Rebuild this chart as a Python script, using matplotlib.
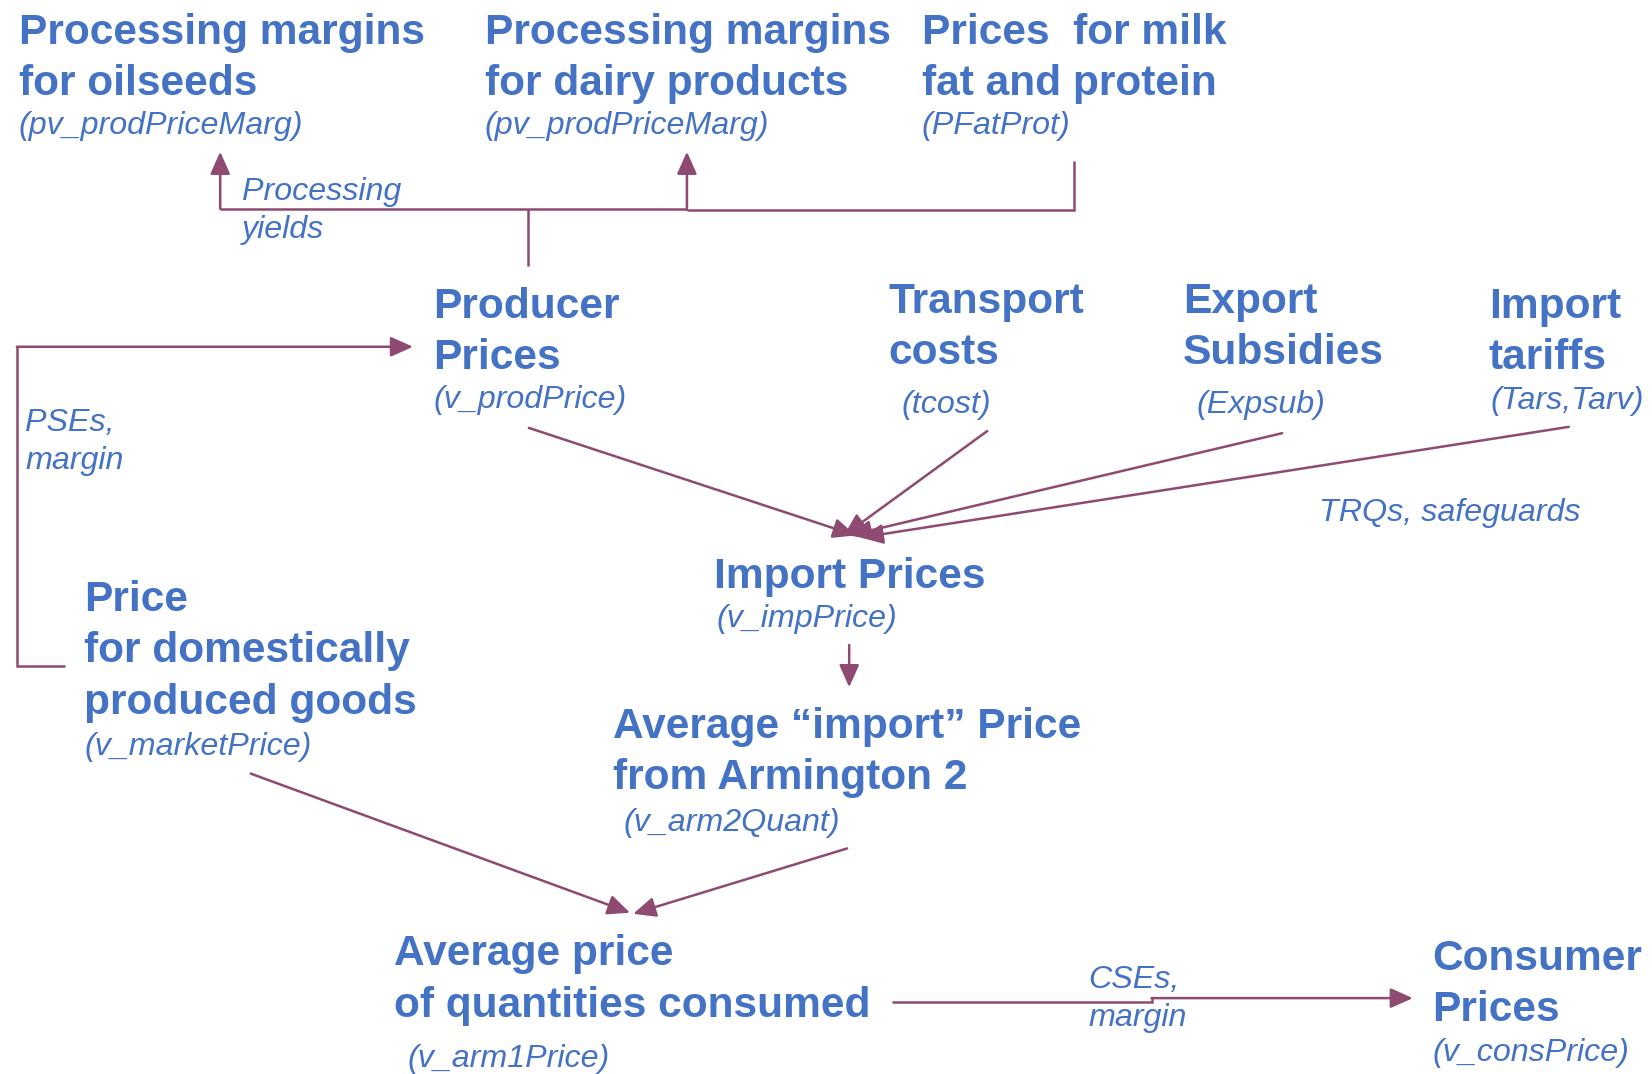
import matplotlib
matplotlib.use("Agg")
import matplotlib.pyplot as plt
from matplotlib.patches import FancyArrowPatch

# ---- content ----
node_titles = [
    ["Processing margins", "for oilseeds"],
    ["Processing margins", "for dairy products"],
    ["Prices  for milk", "fat and protein"],
    ["Producer", "Prices"],
    ["Transport", "costs"],
    ["Export", "Subsidies"],
    ["Import", "tariffs"],
    ["Import Prices"],
    ["Average \u201cimport\u201d Price", "from Armington 2"],
    ["Price", "for domestically", "produced goods"],
    ["Average price", "of quantities consumed"],
    ["Consumer", "Prices"],
]
node_vars = [
    "(pv_prodPriceMarg)", "(pv_prodPriceMarg)", "(PFatProt)",
    "(v_prodPrice)", "(tcost)", "(Expsub)", "(Tars,Tarv)",
    "(v_impPrice)", "(v_arm2Quant)", "(v_marketPrice)",
    "(v_arm1Price)", "(v_consPrice)",
]
edge_labels = [["Processing", "yields"], ["PSEs,", "margin"],
               ["TRQs, safeguards"], ["CSEs,", "margin"]]

# ---- layout (reference pixel space, 1568 x 1019) ----
title_xy = [(18, 42), (460, 42), (875, 42), (411, 302), (843, 297),
            (1123, 297), (1413, 302), (678, 558), (582, 700), (80, 580),
            (374, 916), (1359, 920)]
var_xy = [(18, 127), (460, 127), (875, 127), (411, 387), (856, 392),
          (1136, 392), (1415, 388), (680, 595), (592, 788), (80, 716),
          (387, 1012), (1360, 1007)]
edge_xy = [(230, 190), (24, 409), (1252, 494), (1033, 937)]
LINE = 48.5
ELINE = 36

BLUE = "#4472C4"
MAROON = "#8E4A70"
LW = 1.8
BOLD_SIZE = 30.6
ITAL_SIZE = 23.2

fig = plt.figure(figsize=(16.52, 10.74), dpi=100)
ax = fig.add_axes([0, 0, 1, 1])
ax.set_xlim(0, 1568)
ax.set_ylim(1019, 0)
ax.axis("off")

for lines, (x, y) in zip(node_titles, title_xy):
    for i, t in enumerate(lines):
        ax.text(x, y + i * LINE, t, fontsize=BOLD_SIZE, fontweight="bold",
                family="Liberation Sans", color=BLUE, va="baseline", ha="left")
for t, (x, y) in zip(node_vars, var_xy):
    ax.text(x, y, t, fontsize=ITAL_SIZE, style="italic", family="Liberation Sans",
            color=BLUE, va="baseline", ha="left")
for lines, (x, y) in zip(edge_labels, edge_xy):
    for i, t in enumerate(lines):
        ax.text(x, y + i * ELINE, t, fontsize=ITAL_SIZE, style="italic",
                family="Liberation Sans", color=BLUE, va="baseline", ha="left")

def seg(xs, ys):
    ax.plot(xs, ys, color=MAROON, lw=LW, solid_capstyle="butt",
            solid_joinstyle="miter")

def arrow(p0, p1):
    a = FancyArrowPatch(p0, p1, arrowstyle="-|>,head_length=0.85,head_width=0.38",
                        mutation_scale=16, color=MAROON, lw=LW,
                        shrinkA=0, shrinkB=0)
    ax.add_patch(a)

# processing connectors
seg([501, 501], [252, 198])
seg([209, 652], [198, 198])
seg([652, 1019, 1019], [199, 199, 153])
arrow((209, 198), (209, 144))
arrow((652, 199), (652, 144))

# PSE loop
seg([62, 16, 16], [632, 632, 329])
arrow((16, 329), (392, 329))

# into import prices
arrow((502, 406), (812, 508))
arrow((937, 409), (801, 508))
arrow((1217, 411), (806, 508))
arrow((1489, 405), (817, 510))

# import -> armington
arrow((806, 612), (806, 652))

# to average price consumed
arrow((238, 734), (598, 866))
arrow((804, 805), (601, 867))

# to consumer prices
seg([847, 1093, 1093], [951, 951, 947])
arrow((1093, 947), (1341, 947))

fig.savefig("out.png", dpi=100)
